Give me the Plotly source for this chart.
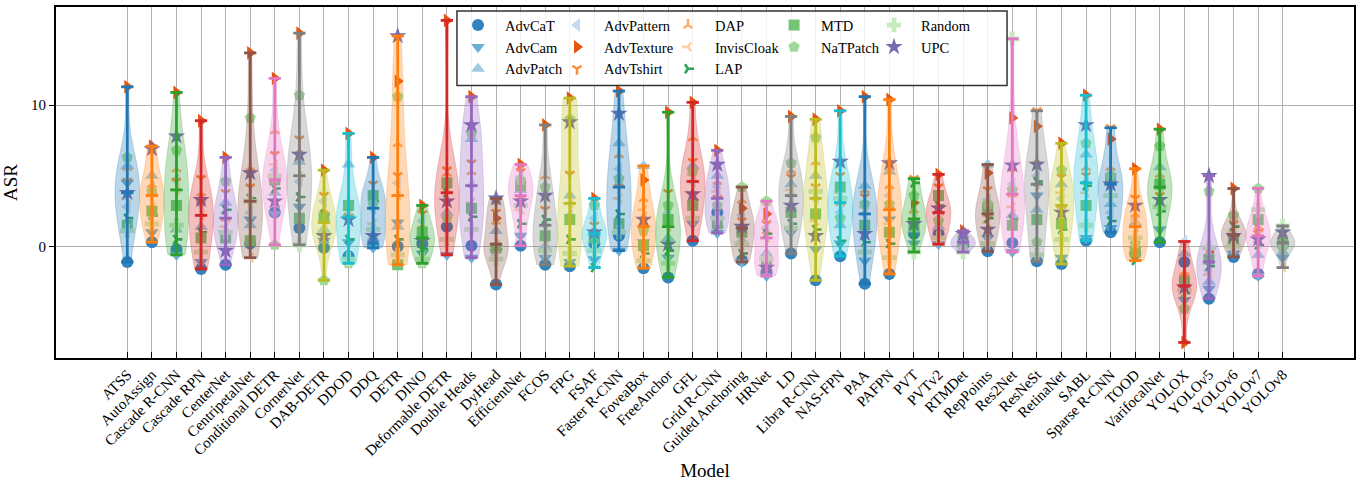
import numpy as np
import plotly.graph_objects as go

models = ["ATSS", "AutoAssign", "Cascade R-CNN", "Cascade RPN", "CenterNet", "CentripetalNet",
          "Conditional DETR", "CornerNet", "DAB-DETR", "DDOD", "DDQ", "DETR", "DINO",
          "Deformable DETR", "Double Heads", "DyHead", "EfficientNet", "FCOS", "FPG", "FSAF",
          "Faster R-CNN", "FoveaBox", "FreeAnchor", "GFL", "Grid R-CNN", "Guided Anchoring",
          "HRNet", "LD", "Libra R-CNN", "NAS-FPN", "PAA", "PAFPN", "PVT", "PVTv2", "RTMDet",
          "RepPoints", "Res2Net", "ResNeSt", "RetinaNet", "SABL", "Sparse R-CNN", "TOOD",
          "VarifocalNet", "YOLOX", "YOLOv5", "YOLOv6", "YOLOv7", "YOLOv8"]

attacks = ["AdvCaT", "AdvCam", "AdvPatch", "AdvPattern", "AdvTexture", "AdvTshirt", "DAP",
           "InvisCloak", "LAP", "MTD", "NaTPatch", "Random", "UPC"]

adv_cat = [-1.1, 0.3, -0.2, -1.6, -1.3, 0.2, 2.4, 1.3, -0.1, -0.7, 0.2, 0.0, 0.2, 1.4, 0.05, -2.7,
           0.05, -1.3, -1.4, 0.2, 0.75, -1.55, -2.2, 0.4, 2.4, -1.0, -1.8, -0.5, -2.4, -0.7, -2.65, -1.95,
           0.9, 0.9, 0.1, -0.35, 0.25, -1.05, -1.25, 0.4, 1.0, -0.5, 0.3, -1.1, -3.7, -0.75, -1.95, 0.1]
adv_cam = [4.5, 1.0, -0.6, -1.1, 0.8, 1.9, 2.3, 2.8, 0.4, 0.3, -0.1, 1.7, -0.5, -0.6, -0.8, -0.4,
           0.75, -0.8, -1.1, -0.9, -0.3, 0.3, -0.8, 1.6, 0.95, -1.1, -2.1, 1.0, -0.2, 0.2, -1.0, 1.9,
           0.2, 0.15, -0.1, 0.6, -0.4, 3.6, -0.8, 0.6, 1.3, -0.2, 1.2, -3.8, -3.0, -0.5, -2.1, -0.8]
adv_patch = [5.7, 5.0, 1.2, 1.4, 3.1, 1.5, 3.8, 6.0, 1.2, 5.8, 0.6, 1.4, 0.9, 2.4, 7.6, 1.1,
             4.0, 0.0, 3.6, 0.9, 7.3, 5.7, 0.6, 5.7, 5.0, 0.4, -0.5, 4.4, 5.0, 1.5, 4.3, 5.3,
             1.2, 1.4, 0.5, 5.8, 2.2, 2.6, 4.4, 6.5, 3.0, 1.7, 5.6, -0.5, -2.5, 0.3, -0.6, -0.4]
adv_pattern = [2.8, 4.2, 4.7, 3.0, 2.4, 2.4, 5.4, 4.6, 3.2, 2.3, 2.7, 4.5, 1.8, 4.3, 4.3, -0.6,
               4.9, 1.5, 2.2, 2.0, 5.5, 2.0, 2.4, 4.6, 4.2, 2.2, 1.3, 3.6, 3.4, 2.4, 2.3, 3.6,
               2.4, 2.0, 0.3, 3.3, 4.4, 5.0, 3.4, 4.5, 2.4, 1.9, 4.6, 0.35, -1.7, 1.2, 0.3, 0.6]
adv_texture = [11.3, 7.1, 10.9, 8.9, 6.3, 13.7, 11.9, 15.1, 5.4, 8.0, 6.3, 11.7, 2.9, 16.0, 10.6, 2.0,
               5.8, 8.6, 10.5, 3.4, 11.0, 4.7, 9.5, 10.2, 6.8, 2.7, 2.3, 9.2, 9.0, 9.6, 10.6, 10.4,
               3.1, 5.1, 1.1, 5.2, 9.1, 8.5, 7.3, 10.7, 7.6, 5.5, 8.3, -6.8, -0.4, 4.1, 1.2, 0.4]
adv_tshirt = [4.6, 3.6, 4.6, 4.8, 3.8, 4.2, 6.5, 7.6, 3.6, 2.1, 4.4, 5.0, 2.3, 5.4, 5.9, 2.4,
              5.3, 2.6, 5.1, 1.5, 4.2, 1.4, 3.8, 6.0, 3.4, 1.8, 1.6, 4.9, 4.2, 5.0, 3.5, 2.6,
              4.8, 4.2, 0.7, 4.0, 5.3, 9.6, 4.9, 5.0, 8.4, 3.4, 3.6, -2.2, -1.1, 1.6, 0.9, -0.2]
dap = [5.6, 4.4, 5.5, 3.8, 2.0, 5.6, 8.2, 6.8, 2.6, 3.2, 3.9, 7.3, 1.5, 5.2, 5.3, 1.8,
       3.6, 5.0, 9.0, 1.3, 6.5, 3.4, 1.8, 7.7, 4.6, 3.3, 1.1, 5.4, 6.0, 3.1, 4.0, 4.3,
       2.6, 3.0, 0.6, 2.3, 3.7, 6.1, 2.9, 5.6, 5.6, 2.3, 5.1, -1.8, -0.6, 0.8, 1.4, 0.9]
invis_cloak = [3.4, 2.8, 4.0, 2.2, 1.4, -0.8, 5.8, 5.0, 1.7, 2.6, 1.6, 3.6, 0.6, 4.1, 3.1, 0.15,
               2.6, 0.5, 3.05, 0.5, 3.4, 2.6, 1.4, 5.1, 3.9, 1.3, 0.6, 4.0, 1.8, 3.8, 2.8, 1.6,
               1.95, 2.4, 0.2, 1.7, 2.8, 4.4, 3.8, 3.8, 4.5, 1.4, 4.2, -2.8, -2.0, 1.0, 0.75, -1.5]
lap = [2.0, 2.2, 0.5, 1.0, 2.6, 3.4, 4.1, 3.5, 2.3, 0.5, 3.2, 0.5, -0.2, 3.8, 2.1, -0.2,
       1.6, 1.9, 0.5, -1.5, 2.3, -0.5, -0.3, 3.3, 1.4, -0.5, 0.9, 1.6, 1.2, 0.4, 0.3, 0.2,
       4.5, 2.9, 0.0, 2.0, 1.9, 4.6, 1.2, 4.3, 1.8, -1.0, 2.5, -3.3, -1.4, 1.4, 0.1, 0.25]
mtd = [1.5, 2.5, 2.9, 0.6, 0.6, 0.4, 4.7, 2.0, 2.0, 2.9, 3.6, -1.3, 1.0, 4.5, 2.7, -0.1,
       4.3, 0.75, 1.9, 0.6, 1.6, 0.05, 1.9, 2.9, 1.6, 1.0, -1.2, 2.4, 2.3, 4.2, 1.5, 1.0,
       1.5, 3.6, 0.4, 2.7, 1.5, 1.9, 1.6, 2.9, 4.8, -0.4, 4.4, -2.5, -0.9, 0.5, 1.9, 0.3]
natpatch = [6.3, 3.9, 6.8, 3.2, 4.6, 9.1, 0.1, 10.7, -2.4, -1.2, 3.0, 10.6, -1.2, 2.0, 8.0, 3.3,
            4.7, 4.2, 9.0, 2.9, 4.8, 1.1, 2.9, 5.3, 2.9, 4.2, 3.2, 5.9, 7.7, 2.0, 3.0, 3.0,
            3.6, 1.8, -0.2, 3.0, 4.0, 0.3, 5.4, 7.3, 5.0, 0.2, 7.1, -4.4, 3.9, 2.2, 4.1, 0.0]
random_atk = [1.1, 1.6, 1.5, -0.4, 1.0, 3.2, 5.0, 0.1, 0.9, -0.9, 1.2, -0.6, -0.9, 0.5, 1.2, -0.9,
              2.9, -0.3, -0.5, -0.3, 1.0, -1.0, -1.2, 2.0, 2.0, 0.2, -0.9, 1.3, 3.9, 3.4, -0.4, -0.8,
              -0.4, 0.6, -0.4, 0.2, 14.7, -0.6, 0.5, 1.5, 3.6, 0.6, 2.8, -3.1, -0.1, 0.0, 2.6, 1.45]
upc = [3.8, 6.9, 7.8, 3.3, -0.3, 5.2, 3.2, 6.5, 0.75, 1.9, 0.75, 14.9, 0.4, 3.2, 8.6, 3.4,
       3.2, 3.6, 8.8, 1.0, 9.4, 1.9, 0.15, 3.7, 5.8, 1.4, -1.5, 2.9, 0.75, 6.0, 0.9, 5.9,
       1.6, 2.7, 0.9, 1.2, 5.75, 5.8, 2.4, 8.6, 4.4, 2.9, 3.3, -2.9, 5.0, 0.75, 0.5, 1.0]

attack_values = [adv_cat, adv_cam, adv_patch, adv_pattern, adv_texture, adv_tshirt, dap,
                 invis_cloak, lap, mtd, natpatch, random_atk, upc]

attack_colors = ["#3182bd", "#6baed6", "#9ecae1", "#c6dbef", "#e6550d", "#fd8d3c", "#fdae6b",
                 "#fdd0a2", "#31a354", "#74c476", "#a1d99b", "#c7e9c0", "#756bb1"]
attack_symbols = ["circle", "triangle-down", "triangle-up", "triangle-left", "triangle-right",
                  "y-down", "y-up", "y-left", "y-right", "square", "pentagon", "cross", "star"]
legend_ids = ["legend", "legend", "legend", "legend2", "legend2", "legend2", "legend3",
              "legend3", "legend3", "legend4", "legend4", "legend5", "legend5"]
tab10 = ["#1f77b4", "#ff7f0e", "#2ca02c", "#d62728", "#9467bd", "#8c564b", "#e377c2",
         "#7f7f7f", "#bcbd22", "#17becf"]

FONT = "Liberation Serif, Times New Roman, serif"
X_RANGE = [-2.9, 49.9]
Y_RANGE = [-7.9, 16.95]


def rgba(hex_color, a):
    h = hex_color.lstrip("#")
    r, g, b = int(h[0:2], 16), int(h[2:4], 16), int(h[4:6], 16)
    return f"rgba({r},{g},{b},{a})"


fig = go.Figure()
positions = list(range(len(models)))

# attack markers (base layer, drawn below the violin bodies)
for name, vals, col, sym, lg in zip(attacks, attack_values, attack_colors, attack_symbols, legend_ids):
    if sym.startswith("y-"):
        marker = dict(symbol=sym, size=7.5, color=col, line=dict(color=col, width=2.6))
    elif sym == "star":
        marker = dict(symbol=sym, size=13, color=col, line=dict(width=0))
    elif sym == "square":
        marker = dict(symbol=sym, size=11, color=col, line=dict(width=0))
    else:
        marker = dict(symbol=sym, size=12, color=col, line=dict(width=0))
    fig.add_trace(go.Scatter(x=positions, y=vals, mode="markers", name=name, marker=marker,
                             legend=lg, hoverinfo="skip"))

data = np.array(attack_values, dtype=float).T  # models x attacks

for i, row in enumerate(data):
    c = tab10[i % 10]
    bw = float(np.std(row, ddof=1) * len(row) ** (-0.2))
    fig.add_trace(go.Violin(
        x=[i] * len(row), y=row, xaxis="x2", yaxis="y",
        width=1.0, scalemode="width", spanmode="hard", bandwidth=bw,
        points=False, box_visible=False, meanline_visible=False,
        fillcolor=rgba(c, 0.3), line=dict(color=rgba(c, 0.3), width=0.8),
        showlegend=False, hoverinfo="skip", name=models[i]))

    lo, hi, med = float(row.min()), float(row.max()), float(np.median(row))
    xs = [i, i, None, i - 0.25, i + 0.25, None, i - 0.25, i + 0.25, None, i - 0.25, i + 0.25]
    ys = [lo, hi, None, lo, lo, None, hi, hi, None, med, med]
    fig.add_trace(go.Scatter(x=xs, y=ys, xaxis="x3", yaxis="y", mode="lines",
                             line=dict(color=c, width=2.8), showlegend=False, hoverinfo="skip"))

legend_common = dict(xref="paper", yref="paper", xanchor="left", yanchor="top",
                     bgcolor="rgba(0,0,0,0)", borderwidth=0, orientation="v",
                     font=dict(family=FONT, size=14.5, color="black"), itemwidth=44,
                     tracegroupgap=0)
leg_x = [0.3043, 0.3806, 0.4661, 0.5478, 0.6248]
leg_y = 0.994

fig.update_layout(
    width=1367, height=488,
    margin=dict(l=56, r=13, t=5, b=130),
    paper_bgcolor="white", plot_bgcolor="white",
    font=dict(family=FONT, size=15, color="black"),
    violinmode="overlay",
    legend=dict(legend_common, x=leg_x[0], y=leg_y),
    legend2=dict(legend_common, x=leg_x[1], y=leg_y),
    legend3=dict(legend_common, x=leg_x[2], y=leg_y),
    legend4=dict(legend_common, x=leg_x[3], y=leg_y),
    legend5=dict(legend_common, x=leg_x[4], y=leg_y),
    xaxis=dict(range=X_RANGE, tickmode="array", tickvals=positions, ticktext=models,
               tickangle=-45, ticks="inside", ticklen=6, tickwidth=1.2, tickcolor="black",
               showgrid=True, gridcolor="#b0b0b0", gridwidth=1, zeroline=False,
               showline=True, linecolor="black", linewidth=2, mirror=True,
               tickfont=dict(family=FONT, size=15, color="black"),
               title=dict(text="Model", font=dict(family=FONT, size=19, color="black"), standoff=6)),
    xaxis2=dict(range=X_RANGE, overlaying="x", visible=False, showgrid=False, zeroline=False),
    xaxis3=dict(range=X_RANGE, overlaying="x", visible=False, showgrid=False, zeroline=False),
    yaxis=dict(range=Y_RANGE, tickmode="linear", tick0=0, dtick=10, ticks="outside", ticklen=5,
               tickwidth=1.2, tickcolor="black", showgrid=True, gridcolor="#b0b0b0", gridwidth=1,
               zeroline=False, showline=True, linecolor="black", linewidth=2, mirror=True,
               tickfont=dict(family=FONT, size=15, color="black"),
               title=dict(text="ASR", font=dict(family=FONT, size=19, color="black"), standoff=10)),
    shapes=[dict(type="rect", xref="paper", yref="paper", x0=0.3089, x1=0.7327, y0=0.7762, y1=0.9887,
                 fillcolor="rgba(255,255,255,0.85)", line=dict(color="#333333", width=1.5),
                 layer="above")],
)

fig.write_html("out.html", config={"displayModeBar": False},
               post_script="document.body.style.margin='0px';")
